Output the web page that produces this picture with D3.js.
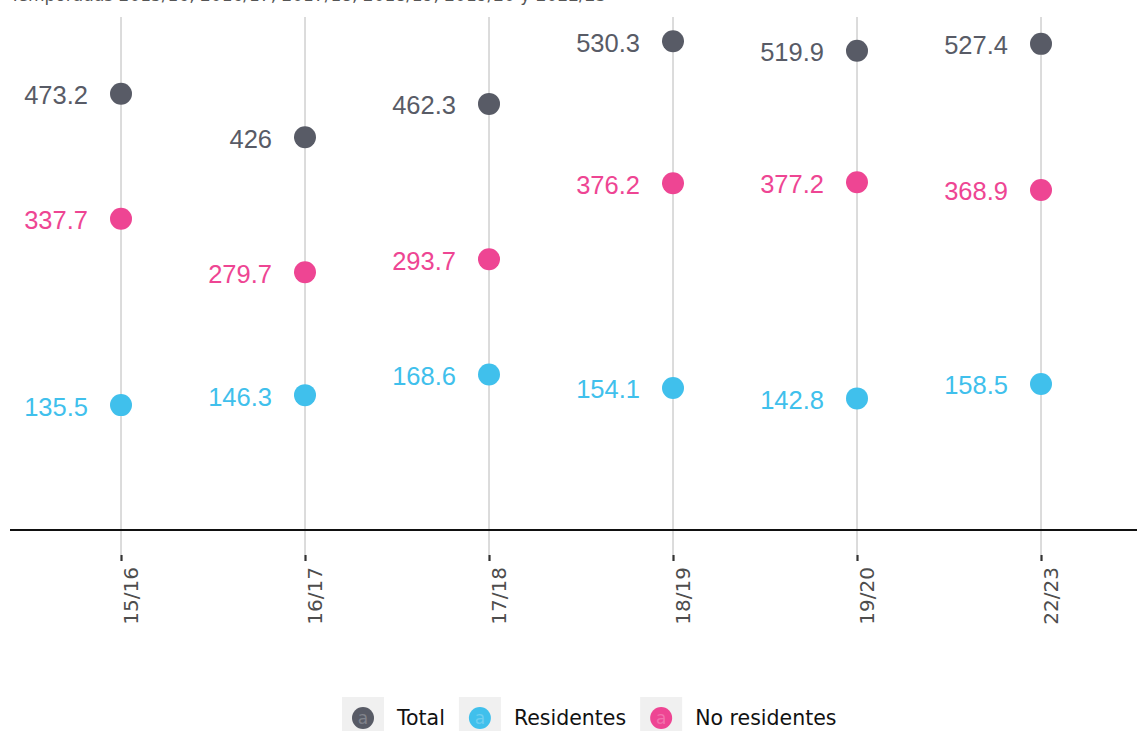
<!DOCTYPE html>
<html>
<head>
<meta charset="utf-8">
<script src="https://cdn.jsdelivr.net/npm/d3@7"></script>
<style>
  html, body { margin: 0; padding: 0; background: #fff; }
  svg { display: block; }
</style>
</head>
<body>
<script>
const seasons = ["15/16", "16/17", "17/18", "18/19", "19/20", "22/23"];
const totalValues = [473.2, 426, 462.3, 530.3, 519.9, 527.4];
const noResidentValues = [337.7, 279.7, 293.7, 376.2, 377.2, 368.9];
const residentValues = [135.5, 146.3, 168.6, 154.1, 142.8, 158.5];
const seriesNames = ["Total", "Residentes", "No residentes"];
const seriesColors = ["#585b66", "#40c0ec", "#ee4593"];
const subtitle = "Temporadas 2015/16, 2016/17, 2017/18, 2018/19, 2019/20 y 2022/23";

const W = 1137, H = 731;
const svg = d3.select("body").append("svg").attr("width", W).attr("height", H);

const x = d3.scalePoint().domain(seasons).range([29, 1133]).padding(0.5);
const y = d3.scaleLinear().domain([0, 575]).range([530, 0]);

// subtitle (cut off at the top, as in the reference)
svg.append("text")
  .attr("x", 10).attr("y", 1)
  .attr("font-family", "DejaVu Sans").attr("font-size", 17)
  .attr("fill", "#555").text(subtitle);

// vertical grid lines
svg.append("g").selectAll("line").data(seasons).join("line")
  .attr("x1", d => x(d)).attr("x2", d => x(d))
  .attr("y1", 17).attr("y2", 555)
  .attr("stroke", "#b8b8b8").attr("stroke-width", 1);

// x axis
const xAxis = svg.append("g").attr("transform", "translate(0,555)")
  .call(d3.axisBottom(x).tickSize(6).tickSizeOuter(0));
xAxis.select(".domain").remove();
xAxis.selectAll(".tick line").attr("stroke", "#333").attr("stroke-width", 2.2);
xAxis.selectAll(".tick text")
  .attr("font-family", "DejaVu Sans").attr("font-size", 20).attr("fill", "#4d4d4d")
  .attr("transform", "rotate(-90)")
  .attr("text-anchor", "end")
  .attr("x", -12).attr("y", 0).attr("dy", "0.8em");

// baseline
svg.append("line").attr("x1", 10).attr("x2", W).attr("y1", y(0)).attr("y2", y(0))
  .attr("stroke", "#111").attr("stroke-width", 2.2);

const series = [
  { name: seriesNames[0], values: totalValues, color: seriesColors[0] },
  { name: seriesNames[2], values: noResidentValues, color: seriesColors[2] },
  { name: seriesNames[1], values: residentValues, color: seriesColors[1] }
];

series.forEach(s => {
  const g = svg.append("g");
  g.selectAll("circle").data(s.values).join("circle")
    .attr("cx", (d, i) => x(seasons[i])).attr("cy", d => y(d))
    .attr("r", 11).attr("fill", s.color);
  g.selectAll("text").data(s.values).join("text")
    .attr("x", (d, i) => x(seasons[i]) - 33).attr("y", d => y(d) + 1.5)
    .attr("text-anchor", "end").attr("dominant-baseline", "central")
    .attr("font-family", "Liberation Sans, Arial, sans-serif").attr("font-size", 25.5)
    .attr("fill", s.color)
    .text(d => d);
});

// legend
const legend = svg.append("g");
let lx = 342;
[0, 1, 2].forEach(i => {
  const item = legend.append("g");
  item.append("rect").attr("x", lx).attr("y", 697).attr("width", 42).attr("height", 40)
    .attr("fill", "#f0f0f0");
  item.append("circle").attr("cx", lx + 21).attr("cy", 718).attr("r", 11)
    .attr("fill", seriesColors[i]);
  item.append("text").attr("x", lx + 21).attr("y", 718).attr("dy", "0.35em")
    .attr("text-anchor", "middle").attr("font-family", "DejaVu Sans").attr("font-size", 17)
    .attr("fill", "#fff").attr("fill-opacity", 0.25).text("a");
  const t = item.append("text").attr("x", lx + 55).attr("y", 718).attr("dy", "0.35em")
    .attr("font-family", "DejaVu Sans").attr("font-size", 20.5).attr("fill", "#111")
    .text(seriesNames[i]);
  lx = lx + 55 + t.node().getComputedTextLength() + 14;
});
</script>
</body>
</html>
